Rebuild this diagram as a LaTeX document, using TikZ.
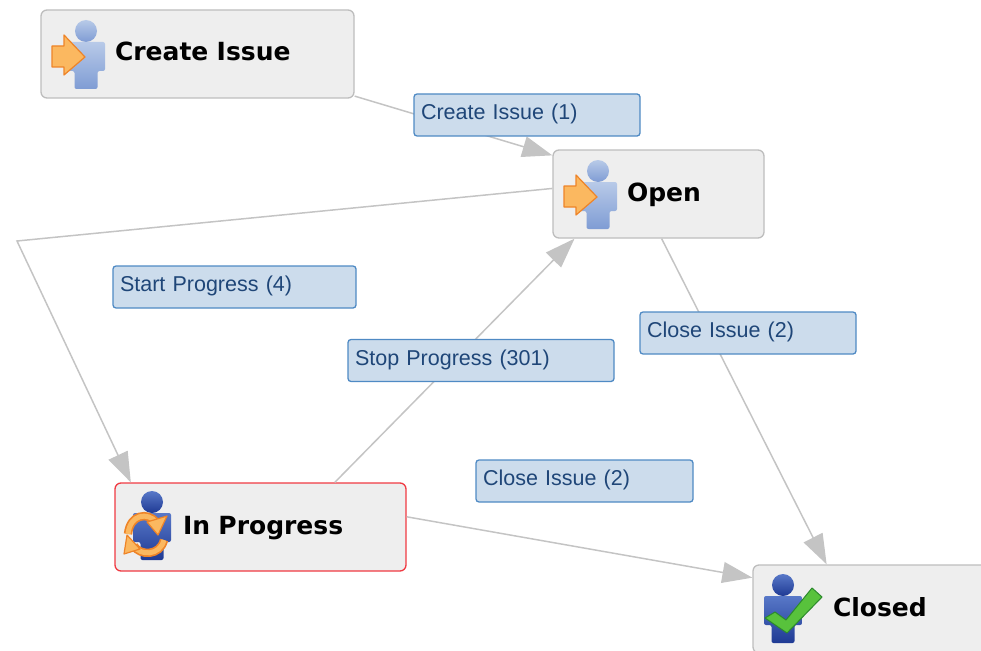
\documentclass[tikz,border=0pt]{standalone}
\usepackage{fontspec}
\setmainfont{Liberation Sans}
\newfontfamily\statefont{DejaVu Sans}
\usetikzlibrary{arrows.meta}

\definecolor{boxfill}{HTML}{EEEEEE}
\definecolor{boxline}{HTML}{BDBDBD}
\definecolor{activeline}{HTML}{F03A42}
\definecolor{edgeline}{HTML}{C4C4C4}
\definecolor{tagfill}{HTML}{CCDCEC}
\definecolor{tagline}{HTML}{4F8AC4}
\definecolor{tagtext}{HTML}{1F4678}
\definecolor{arrowfill}{HTML}{FBB860}
\definecolor{arrowline}{HTML}{EE8428}
\definecolor{paletop}{HTML}{B8CAE8}
\definecolor{palebottom}{HTML}{7F9CD4}
\definecolor{darktop}{HTML}{5878C8}
\definecolor{darkbottom}{HTML}{1F3A94}
\definecolor{checkfill}{HTML}{58C23C}
\definecolor{checkline}{HTML}{2C8A2C}

\tikzset{
	statebox/.style={draw=boxline, fill=boxfill, line width=1.3pt, rounded corners=6pt, text width=#1, minimum height=88pt, inner xsep=0pt, align=left, text height=20pt, text depth=6pt, font=\statefont\bfseries\fontsize{25}{30}\selectfont},
	tagbox/.style={draw=tagline, fill=tagfill, line width=1.3pt, rounded corners=3pt, text width=#1, minimum height=42pt, inner xsep=7pt, align=left, text height=15pt, text depth=6pt, text=tagtext, font=\fontsize{21.5}{26}\selectfont},
	flow/.style={draw=edgeline, line width=1.5pt, -{Triangle[length=30pt,width=21pt]}},
	syncline/.style={draw=arrowline, double=arrowfill, double distance=5pt, line width=1.7pt},
	synctip/.style={draw=arrowline, fill=arrowfill, line width=1.2pt, line join=round},
	pics/person/.style 2 args={code={
		\shade[top color=#1, bottom color=#2] (0,0) circle (11);
		\shade[top color=#1, bottom color=#2, rounded corners=2pt] (-19,11) -- (19,11) -- (19,40) -- (11.5,40) -- (11.5,58) -- (-11.5,58) -- (-11.5,40) -- (-19,40) -- cycle;
	}},
	pics/enterarrow/.style={code={
		\draw[synctip] (-34,15) -- (-22,15) -- (-22,4) -- (-1,26) -- (-22,44) -- (-22,36) -- (-34,36) -- cycle;
	}},
	pics/syncarrows/.style={code={
		\draw[syncline] (-24,32) .. controls (-22,12) and (-4,10) .. (4,20);
		\draw[syncline] (12,38) .. controls (8,54) and (-12,54) .. (-18,44);
		\draw[synctip] (15,14) -- (6,33) -- (-5,20) -- cycle;
		\draw[synctip] (-28,52) -- (-25,33) -- (-12,47) -- cycle;
	}},
	pics/checkmark/.style={code={
		\draw[draw=checkline, fill=checkfill, line width=1pt, line join=round] (-18,33) -- (-8,27) -- (3,35) -- (29,3) -- (39,12) -- (4,48) -- cycle;
	}}
}

\begin{document}
\begin{tikzpicture}[x=1pt,y=-1pt]
	\useasboundingbox (0,0) rectangle (981,650);
	\clip (0,0) rectangle (981,650);

	\node[statebox=313pt] (createissue) at (197.5,54) {\hspace*{74pt}Create Issue};
	\node[statebox=211pt] (open) [below of=createissue, node distance=140pt, xshift=461pt] {\hspace*{74pt}Open};
	\node[statebox=291pt, draw=activeline] (inprogress) [below of=createissue, node distance=473pt, xshift=63pt] {\hspace*{68pt}In Progress};
	\node[statebox=250pt] (closed) [below of=inprogress, node distance=82pt, xshift=617.5pt] {\hspace*{80pt}Closed};
	\coordinate (bend) at (17,241);

	\pic at (86,31) {person={paletop}{palebottom}};
	\pic at (86,31) {enterarrow};
	\pic at (598,171) {person={paletop}{palebottom}};
	\pic at (598,171) {enterarrow};
	\pic at (152,502) {person={darktop}{darkbottom}};
	\pic at (152,502) {syncarrows};
	\pic at (783,585) {person={darktop}{darkbottom}};
	\pic at (783,585) {checkmark};

	\draw[flow] (createissue.-15.7) -- (open.160.7);
	\draw[flow] (open.177.8) -- (bend) -- (inprogress.161);
	\draw[flow] (inprogress.31.3) -- (open.208.3);
	\draw[flow] (open.274.5) -- (closed.139.2);
	\draw[flow] (inprogress.4.3) -- (closed.166.1);

	\node[tagbox=212pt] (createtag) at (527,115) {Create Issue (1)};
	\node[tagbox=229pt] (starttag) [below of=createtag, node distance=172pt, xshift=-292.5pt] {Start Progress (4)};
	\node[tagbox=252pt] (stoptag) [below of=createtag, node distance=245.5pt, xshift=-46pt] {Stop Progress (301)};
	\node[tagbox=202pt] (closetag) [below of=createtag, node distance=218pt, xshift=221pt] {Close Issue (2)};
	\node[tagbox=203pt] (closedtag) [below of=createtag, node distance=366pt, xshift=57.5pt] {Close Issue (2)};
\end{tikzpicture}
\end{document}
